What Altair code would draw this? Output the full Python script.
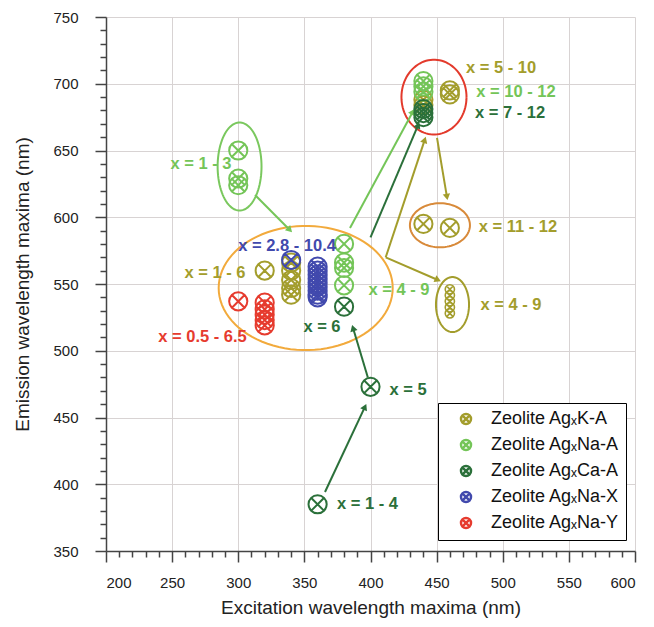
import math
import numpy as np
import pandas as pd
import altair as alt

# ---------------- data ----------------
SERIES = ["Zeolite AgₓK-A", "Zeolite AgₓNa-A", "Zeolite AgₓCa-A",
          "Zeolite AgₓNa-X", "Zeolite AgₓNa-Y"]
COLORS = ["#a39d2c", "#74c558", "#2b703a", "#4149ad", "#e63b2e"]

ka_x = [320, 340, 340, 340, 340, 340, 440, 440, 460, 460, 440, 460]
ka_y = [560, 566, 560, 553, 547, 542, 688, 684, 695, 692, 595, 592]
ka_small_x = [460, 460, 460, 460, 460]
ka_small_y = [546, 541.5, 537, 532.5, 528]
naa_x = [300, 300, 300, 380, 380, 380, 380, 440, 440, 440]
naa_y = [650, 629, 624, 580, 566, 562, 549, 702, 698, 694]
caa_x = [360, 400, 380, 440, 440, 440]
caa_y = [385, 473, 533, 681, 678, 675]
nax_x = [340, 360, 360, 360, 360, 360, 360, 360, 360, 360]
nax_y = [568, 563, 560, 557, 554, 551, 548, 545, 542, 540]
nay_x = [300, 320, 320, 320, 320, 320]
nay_y = [537, 536, 531, 527, 523, 519]

# arrows: start -> end
arrow_series = [1, 1, 2, 0, 0, 0, 2, 2]
arrow_x1 = [312.7, 384.5, 400.0, 411.5, 450.3, 411.5, 398.0, 365.6]
arrow_y1 = [616.7, 592.0, 585.0, 570.0, 659.4, 570.0, 480.0, 394.2]
arrow_x2 = [339.0, 432.0, 436.0, 441.0, 457.8, 451.0, 386.8, 395.8]
arrow_y2 = [590.5, 679.0, 669.0, 658.0, 615.2, 553.0, 517.0, 458.0]

# ellipses: centre and radii (data units)
ell_cx = [301, 351, 448, 452.5, 462]
ell_cy = [638, 547, 690, 594, 534.6]
ell_rx = [16.6, 65.8, 24.6, 22.7, 12.5]
ell_ry = [33, 46.5, 28, 16.5, 20.6]
ell_col = ["#7ac85e", "#f2aa3c", "#e33a2c", "#d88a3a", "#a39d2c"]

# labels
lab_text = ["x = 1 - 4", "x = 5", "x = 6", "x = 0.5 - 6.5", "x = 1 - 6",
            "x = 2.8 - 10.4", "x = 4 - 9", "x = 1 - 3", "x = 5 - 10",
            "x = 10 - 12", "x = 7 - 12", "x = 11 - 12", "x = 4 - 9"]
lab_series = [2, 2, 2, 4, 0, 3, 1, 1, 0, 1, 2, 0, 0]
lab_x = [397.7, 428.4, 363.3, 273.0, 282.4, 336.9, 421.5, 271.8, 498.7,
         510.0, 505.5, 511.5, 506.2]
lab_y = [385.2, 470.6, 517.8, 510.3, 558.2, 578.5, 545.5, 639.9, 711.8,
         693.8, 678.0, 592.7, 534.3]

# ---------------- frames ----------------
W, H = 529, 534
XD, YD = [200, 600], [350, 750]

pts = pd.DataFrame({
    "x": ka_x + naa_x + caa_x + nax_x + nay_x,
    "y": ka_y + naa_y + caa_y + nax_y + nay_y,
    "s": [SERIES[0]] * len(ka_x) + [SERIES[1]] * len(naa_x) + [SERIES[2]] * len(caa_x)
         + [SERIES[3]] * len(nax_x) + [SERIES[4]] * len(nay_x),
})
pts_small = pd.DataFrame({"x": ka_small_x, "y": ka_small_y, "c": COLORS[0]})

rows = []
heads = []
sx, sy = W / (XD[1] - XD[0]), H / (YD[1] - YD[0])
for i in range(len(arrow_x1)):
    c = COLORS[arrow_series[i]]
    rows.append({"id": i, "o": 0, "x": arrow_x1[i], "y": arrow_y1[i], "c": c})
    rows.append({"id": i, "o": 1, "x": arrow_x2[i], "y": arrow_y2[i], "c": c})
    dx = (arrow_x2[i] - arrow_x1[i]) * sx
    dy = (arrow_y2[i] - arrow_y1[i]) * sy
    ang = math.degrees(math.atan2(dx, dy)) % 360
    heads.append({"x": arrow_x2[i], "y": arrow_y2[i], "c": c, "a": ang})
arr = pd.DataFrame(rows)
hd = pd.DataFrame(heads)

t = np.linspace(0, 2 * np.pi, 91)
erows = []
for i in range(len(ell_cx)):
    for k, tt in enumerate(t):
        erows.append({"id": i, "o": k,
                      "x": ell_cx[i] + ell_rx[i] * np.cos(tt),
                      "y": ell_cy[i] + ell_ry[i] * np.sin(tt),
                      "c": ell_col[i]})
ell = pd.DataFrame(erows)

labs = pd.DataFrame({"x": lab_x, "y": lab_y, "t": lab_text,
                     "c": [COLORS[i] for i in lab_series]})

# ---------------- encodings ----------------
MAJ = "datum.value % 50 === 0"
x_axis = alt.Axis(values=list(range(200, 601, 10)), labelExpr=f"{MAJ} ? datum.label : ''",
                  title="Excitation wavelength maxima (nm)",
                  tickSize={"condition": {"test": MAJ, "value": 11}, "value": 6},
                  gridOpacity={"condition": {"test": MAJ, "value": 1}, "value": 0},
                  labelPadding=13, titlePadding=8)
y_axis = alt.Axis(values=list(range(350, 751, 10)), labelExpr=f"{MAJ} ? datum.label : ''",
                  title="Emission wavelength maxima (nm)",
                  tickSize={"condition": {"test": MAJ, "value": 11}, "value": 6},
                  gridOpacity={"condition": {"test": MAJ, "value": 1}, "value": 0},
                  labelPadding=17, titlePadding=20)

xs = alt.Scale(domain=XD, nice=False, zero=False)
ys = alt.Scale(domain=YD, nice=False, zero=False)
cs = alt.Scale(domain=SERIES, range=COLORS)

SYM = "M-1,0A1,1,0,1,0,1,0A1,1,0,1,0,-1,0ZM-0.64,-0.64L0.64,0.64M-0.64,0.64L0.64,-0.64"

X = alt.X("x:Q", scale=xs, axis=x_axis)
Y = alt.Y("y:Q", scale=ys, axis=y_axis)
LEG = alt.Legend(title=None, orient="none", legendX=332, legendY=386,
                 strokeColor="black", fillColor="white", padding=7,
                 labelFont="Liberation Sans", labelFontSize=18,
                 labelColor="#111", labelOffset=16, symbolOffset=12,
                 symbolType=SYM, symbolSize=100, symbolStrokeWidth=2.5,
                 symbolFillColor="transparent", rowPadding=6)
C = alt.Color("s:N", scale=cs, sort=SERIES, legend=LEG)
ST = alt.Stroke("c:N", scale=None)

ellipses = alt.Chart(ell).mark_line(strokeWidth=2).encode(
    x=X, y=Y, stroke=ST, detail="id:N", order="o:Q")

lines = alt.Chart(arr).mark_line(strokeWidth=2).encode(
    x=X, y=Y, stroke=ST, detail="id:N", order="o:Q")

arrowheads = alt.Chart(hd).mark_point(shape="triangle-up", filled=True, size=55, opacity=1,
                                      strokeWidth=0).encode(
    x=X, y=Y, fill=alt.Fill("c:N", scale=None), angle=alt.Angle("a:Q", scale=None))

points = alt.Chart(pts).mark_point(shape=SYM, size=330, strokeWidth=2, filled=False, opacity=1).encode(
    x=X, y=Y, color=C)

points_small = alt.Chart(pts_small).mark_point(shape=SYM, size=85, strokeWidth=1.6, filled=False, opacity=1).encode(
    x=X, y=Y, stroke=ST)

texts = alt.Chart(labs).mark_text(font="Liberation Sans", fontWeight="bold", fontSize=16.5,
                                  align="center", baseline="middle").encode(
    x=X, y=Y, text="t:N", fill=alt.Fill("c:N", scale=None))

chart = alt.layer(ellipses, lines, arrowheads, points, points_small, texts).properties(
    width=W, height=H,
    autosize=alt.AutoSizeParams(type="none"),
    padding={"left": 98, "top": 9, "right": 11, "bottom": 68},
    background="white",
).configure_view(stroke=None).configure_axis(
    domainColor="#444", domainWidth=1.5, tickColor="#444", tickWidth=1.5,
    gridColor="#d8d3d3", gridWidth=1,
    labelFont="Liberation Sans", labelFontSize=15, labelColor="#222",
    titleFont="Liberation Sans", titleFontSize=19, titleFontWeight="normal", titleColor="#222",
)

chart.save("out.html", embed_options={"renderer": "svg", "actions": False})
